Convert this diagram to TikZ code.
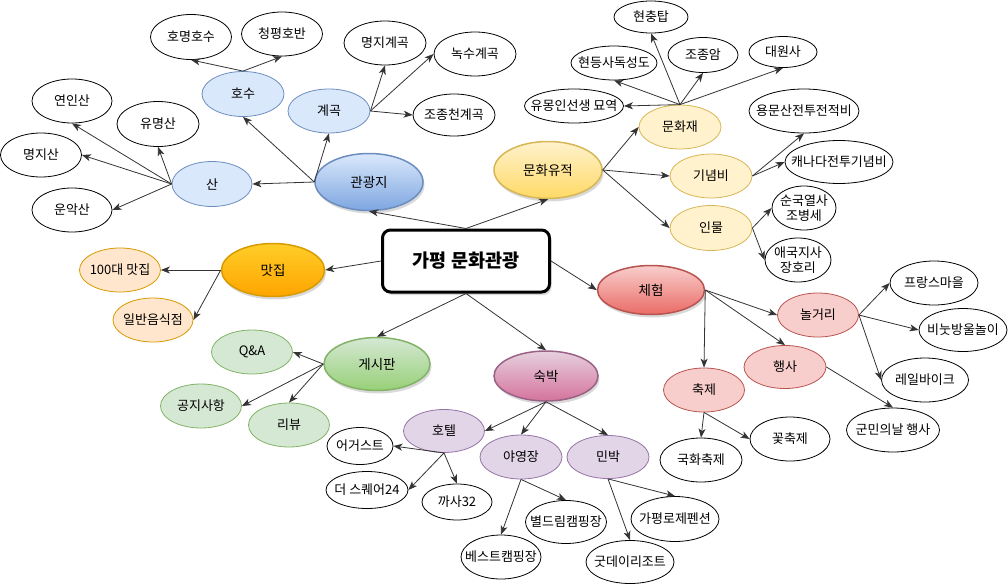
\documentclass[tikz,border=0pt]{standalone}
\usepackage{fontspec}
\setmainfont{Noto Sans CJK KR}
\usetikzlibrary{shapes.geometric,arrows.meta,shadows}
\newcommand{\zw}[1]{\makebox[0pt][c]{#1}}
\definecolor{bluefill}{HTML}{DAE8FC}
\definecolor{bluegrad}{HTML}{7EA6E0}
\definecolor{blueline}{HTML}{6C8EBF}
\definecolor{yelfill}{HTML}{FFF2CC}
\definecolor{yelgrad}{HTML}{FFD966}
\definecolor{yelline}{HTML}{D6B656}
\definecolor{orafill}{HTML}{FFCD28}
\definecolor{oragrad}{HTML}{FFA500}
\definecolor{oraline}{HTML}{D79B00}
\definecolor{oralight}{HTML}{FFE6CC}
\definecolor{grefill}{HTML}{D5E8D4}
\definecolor{gregrad}{HTML}{97D077}
\definecolor{greline}{HTML}{82B366}
\definecolor{purfill}{HTML}{E6D0DE}
\definecolor{purgrad}{HTML}{D5739D}
\definecolor{purline}{HTML}{996185}
\definecolor{purlight}{HTML}{E1D5E7}
\definecolor{purlightline}{HTML}{9673A6}
\definecolor{redfill}{HTML}{F8CECC}
\definecolor{redgrad}{HTML}{EA6B66}
\definecolor{redline}{HTML}{B85450}
\tikzset{
  sz/.style 2 args={minimum width=#1pt, minimum height=#2pt},
  ell/.style={ellipse, inner sep=0pt, align=center, font=\fontsize{13}{14}\selectfont},
  leaf/.style={ell, draw=black, line width=0.8pt, fill=white},
  sub/.style 2 args={ell, draw=#2, line width=0.8pt, fill=#1},
  cat/.style n args={3}{ellipse, inner sep=0pt, draw=#3, line width=1.5pt, top color=#1, bottom color=#2,
     drop shadow={shadow xshift=1.5pt, shadow yshift=-3pt, opacity=0.3}, font=\fontsize{13.5}{15}\selectfont},
  rootbox/.style={rectangle, rounded corners=8pt, draw=black, line width=3pt, fill=white,
     drop shadow={shadow xshift=2pt, shadow yshift=-3pt, opacity=0.3}, font=\bfseries\fontsize{18.5}{20}\selectfont},
  conn/.style={draw=black!80, line width=0.8pt, -{Stealth[length=9pt,width=7pt,inset=2.5pt]}}
}
\begin{document}
\begin{tikzpicture}[x=1pt,y=-1pt]
\useasboundingbox (0,0) rectangle (1008,586);
% root
\node[rootbox, sz={167}{62}] (root) at (466,261) {가평 문화관광};
% categories
\node[cat={bluefill}{bluegrad}{blueline}, sz={108}{57}] (gwan) at (369,182) {관광지};
\node[cat={yelfill}{yelgrad}{yelline}, sz={108}{57}] (munyu) at (548,170) {\zw{문화유적}};
\node[cat={orafill}{oragrad}{oraline}, sz={103}{53}] (mat) at (273,270) {맛집};
\node[cat={grefill}{gregrad}{greline}, sz={106}{53}] (gesi) at (377,364) {게시판};
\node[cat={purfill}{purgrad}{purline}, sz={104}{50}] (sukbak) at (546,376) {숙박};
\node[cat={redfill}{redgrad}{redline}, sz={107}{49}] (cheom) at (651,290) {체험};
% sub nodes
\node[sub={bluefill}{blueline}, sz={80}{45}] (san) at (212,184) {산};
\node[sub={bluefill}{blueline}, sz={82}{45}] (hosu) at (243,94) {호수};
\node[sub={bluefill}{blueline}, sz={82}{44}] (gyegok) at (329,111) {계곡};
\node[sub={yelfill}{yelline}, sz={82}{44}] (munhwajae) at (680,127) {문화재};
\node[sub={yelfill}{yelline}, sz={82}{44}] (ginyeom) at (711,176) {기념비};
\node[sub={yelfill}{yelline}, sz={82}{45}] (inmul) at (711,228) {인물};
\node[sub={redfill}{redline}, sz={81}{44}] (nolgeori) at (818,315) {놀거리};
\node[sub={redfill}{redline}, sz={82}{43}] (haengsa) at (785,367) {행사};
\node[sub={redfill}{redline}, sz={81}{44}] (chukje) at (704,390) {축제};
\node[sub={purlight}{purlightline}, sz={81}{43}] (hotel) at (444,431) {호텔};
\node[sub={purlight}{purlightline}, sz={82}{44}] (yayeong) at (521,457) {야영장};
\node[sub={purlight}{purlightline}, sz={82}{43}] (minbak) at (608,457) {민박};
\node[sub={oralight}{oraline}, sz={81}{44}] (mat100) at (120,270) {\zw{100대 맛집}};
\node[sub={oralight}{oraline}, sz={80}{44}] (ilban) at (153,320) {\zw{일반음식점}};
\node[sub={grefill}{greline}, sz={81}{44}] (qa) at (252,352) {Q\&A};
\node[sub={grefill}{greline}, sz={81}{44}] (gongji) at (201,406) {\zw{공지사항}};
\node[sub={grefill}{greline}, sz={81}{44}] (review) at (289,425) {리뷰};
% leaves
\node[leaf, sz={80}{44}] (yeonin) at (72,101) {연인산};
\node[leaf, sz={82}{45}] (yumyeong) at (158,124) {유명산};
\node[leaf, sz={81}{44}] (myeongji) at (41,155) {명지산};
\node[leaf, sz={80}{44}] (unak) at (72,210) {운악산};
\node[leaf, sz={81}{45}] (homyeong) at (191,37) {\zw{호명호수}};
\node[leaf, sz={81}{44}] (cheongpyeong) at (282,34) {\zw{청평호반}};
\node[leaf, sz={82}{44}] (myeongjigye) at (385,43) {\zw{명지계곡}};
\node[leaf, sz={82}{44}] (noksu) at (475,54) {\zw{녹수계곡}};
\node[leaf, sz={82}{42}] (jojongcheon) at (454,115) {\zw{조종천계곡}};
\node[leaf, sz={74}{32}] (hyeonchung) at (651,17) {\zw{현충탑}};
\node[leaf, sz={70}{35}] (jojongam) at (703,55) {\zw{조종암}};
\node[leaf, sz={68}{31}] (daewon) at (783,52) {\zw{대원사}};
\node[leaf, sz={86}{34}] (hyeondeung) at (614,63) {\zw{현등사독성도}};
\node[leaf, sz={99}{34}] (yumong) at (574,106) {\zw{유몽인선생 묘역}};
\node[leaf, sz={110}{44}] (yongmun) at (804,111) {\zw{용문산전투전적비}};
\node[leaf, sz={108}{43}] (canada) at (839,162) {\zw{캐나다전투기념비}};
\node[leaf, sz={64}{44}, font=\fontsize{13}{13.5}\selectfont] (sungguk) at (804,208) {\zw{\shortstack{순국열사\\조병세}}};
\node[leaf, sz={66}{44}, font=\fontsize{13}{13.5}\selectfont] (aeguk) at (798,260) {\zw{\shortstack{애국지사\\장호리}}};
\node[leaf, sz={88}{44}] (france) at (934,283) {\zw{프랑스마을}};
\node[leaf, sz={88}{43}] (bubble) at (963,330) {\zw{비눗방울놀이}};
\node[leaf, sz={87}{44}] (rail) at (925,380) {\zw{레일바이크}};
\node[leaf, sz={93}{44}] (gunmin) at (893,430) {\zw{군민의날 행사}};
\node[leaf, sz={82}{44}] (gukhwa) at (701,460) {\zw{국화축제}};
\node[leaf, sz={80}{44}] (kkot) at (790,439) {꽃축제};
\node[leaf, sz={66}{37}] (august) at (360,446) {\zw{어거스트}};
\node[leaf, sz={82}{37}] (square) at (367,490) {\zw{더 스퀘어24}};
\node[leaf, sz={70}{36}] (casa) at (457,502) {\zw{까사32}};
\node[leaf, sz={81}{43}] (byeol) at (566,522) {\zw{별드림캠핑장}};
\node[leaf, sz={80}{44}] (best) at (501,557) {\zw{베스트캠핑장}};
\node[leaf, sz={88}{45}] (rose) at (675,519) {\zw{가평로제펜션}};
\node[leaf, sz={88}{43}] (goodday) at (630,562) {\zw{굿데이리조트}};
% connectors
\draw[conn] (root.north) -- (gwan.south);
\draw[conn] (root.north) -- (munyu.south);
\draw[conn] (root.west) -- (mat.east);
\draw[conn] (root.south) -- (gesi.north);
\draw[conn] (root.south) -- (sukbak.north);
\draw[conn] (root.east) -- (cheom.west);
\draw[conn] (gwan.west) -- (san.east);
\draw[conn] (gwan.west) -- (hosu.south);
\draw[conn] (gwan.west) -- (gyegok.south);
\draw[conn] (san.west) -- (yeonin.south);
\draw[conn] (san.west) -- (myeongji.east);
\draw[conn] (san.west) -- (yumyeong.south);
\draw[conn] (san.west) -- (unak.east);
\draw[conn] (hosu.north) -- (homyeong.south);
\draw[conn] (hosu.north) -- (cheongpyeong.south);
\draw[conn] (gyegok.east) -- (myeongjigye.south);
\draw[conn] (gyegok.east) -- (noksu.west);
\draw[conn] (gyegok.east) -- (jojongcheon.west);
\draw[conn] (munyu.east) -- (munhwajae.west);
\draw[conn] (munyu.east) -- (ginyeom.west);
\draw[conn] (munyu.east) -- (inmul.west);
\draw[conn] (munhwajae.north) -- (hyeonchung.south);
\draw[conn] (munhwajae.north) -- (jojongam.south);
\draw[conn] (munhwajae.north) -- (daewon.south);
\draw[conn] (munhwajae.north) -- (hyeondeung.south);
\draw[conn] (munhwajae.north) -- (yumong.east);
\draw[conn] (ginyeom.east) -- (yongmun.south);
\draw[conn] (ginyeom.east) -- (canada.west);
\draw[conn] (inmul.east) -- (sungguk.west);
\draw[conn] (inmul.east) -- (aeguk.west);
\draw[conn] (cheom.east) -- (nolgeori.west);
\draw[conn] (cheom.east) -- (haengsa.north);
\draw[conn] (cheom.east) -- (chukje.north);
\draw[conn] (nolgeori.east) -- (france.west);
\draw[conn] (nolgeori.east) -- (bubble.west);
\draw[conn] (nolgeori.east) -- (rail.west);
\draw[conn] (haengsa.east) -- (gunmin.north);
\draw[conn] (chukje.south) -- (gukhwa.north);
\draw[conn] (chukje.south) -- (kkot.west);
\draw[conn] (mat.west) -- (mat100.east);
\draw[conn] (mat.west) -- (ilban.east);
\draw[conn] (gesi.west) -- (qa.east);
\draw[conn] (gesi.west) -- (gongji.east);
\draw[conn] (gesi.west) -- (review.north);
\draw[conn] (sukbak.south) -- (hotel.east);
\draw[conn] (sukbak.south) -- (yayeong.north);
\draw[conn] (sukbak.south) -- (minbak.north);
\draw[conn] (hotel.south) -- (august.east);
\draw[conn] (hotel.south) -- (square.east);
\draw[conn] (hotel.south) -- (casa.north);
\draw[conn] (yayeong.south) -- (byeol.north);
\draw[conn] (yayeong.south) -- (best.north);
\draw[conn] (minbak.south) -- (rose.north);
\draw[conn] (minbak.south) -- (goodday.north);
\end{tikzpicture}
\end{document}
